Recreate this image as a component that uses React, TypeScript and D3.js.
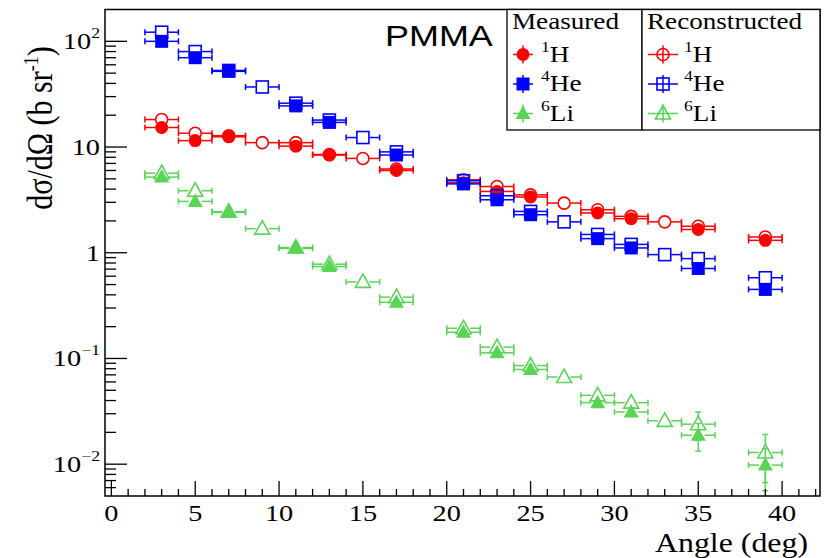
import React from 'react';
import * as d3 from 'd3';

// angles (deg) of the measured and reconstructed bins
const measAngles = [3, 5, 7, 11, 13, 17, 21, 23, 25, 29, 31, 35, 39];
const recoAngles = [3, 5, 7, 9, 11, 13, 15, 17, 21, 23, 25, 27, 29, 31, 33, 35, 39];

// cross sections (b/sr)
const hMeas = [15.3, 11.5, 12.5, 10.2, 8.4, 6.0, 4.6, 3.8, 3.37, 2.38, 2.1, 1.66, 1.31];
const hReco = [18.2, 13.5, 12.8, 11.0, 11.0, 8.5, 7.8, 6.2, 4.9, 4.23, 3.53, 2.95, 2.55, 2.21, 1.96, 1.78, 1.41];
const heMeas = [100, 70, 52, 24.5, 17.1, 8.4, 4.48, 3.17, 2.29, 1.36, 1.11, 0.71, 0.45];
const heReco = [122, 80, 53, 37, 26, 18, 12.3, 9.0, 4.8, 3.46, 2.46, 1.96, 1.49, 1.2, 0.96, 0.88, 0.58];
const liMeas = [5.2, 3.06, 2.41, 1.1, 0.74, 0.34, 0.177, 0.113, 0.0787, 0.0382, 0.0312, 0.0188, 0.0098];
const liReco = [5.66, 3.86, 2.45, 1.69, 1.12, 0.78, 0.53, 0.38, 0.193, 0.128, 0.0857, 0.0667, 0.0448, 0.0382, 0.0257, 0.0239, 0.0129];
const liMeasErr = [0, 0, 0, 0, 0, 0, 0, 0, 0, 0, 0, 0.0055, 0.0042];
const liRecoErr = [0, 0, 0, 0, 0, 0, 0, 0, 0, 0, 0, 0, 0, 0, 0, 0.0072, 0.0062];

const xTicks = [0, 5, 10, 15, 20, 25, 30, 35, 40];
const yTicks = [0.01, 0.1, 1, 10, 100];
const yTickLabels = [['10', '\u22122'], ['10', '\u22121'], ['1', ''], ['10', ''], ['10', '2']];

const RED = '#ff0000';
const BLUE = '#0000ff';
const GREEN = '#59d454';
const SERIF = '"Liberation Serif", "Times New Roman", serif';
const SANS = '"Liberation Sans", Arial, sans-serif';
const SX = 1.18; // glyphs in the original are stretched horizontally

const W = 834, H = 558;
const left = 105, right = 820, top = 9.5, bottom = 496;

const x = d3.scaleLinear().domain([-0.38, 42.26]).range([left, right]);
const y = d3.scaleLog().domain([0.005, 200]).range([bottom, top]);

type Shape = 'circle' | 'square' | 'triangle';

const Marker = ({ cx, cy, shape, color, open }: { cx: number; cy: number; shape: Shape; color: string; open: boolean }) => {
  const fill = open ? 'none' : color;
  const sw = open ? 1.6 : 0;
  if (shape === 'circle') return <circle cx={cx} cy={cy} r={open ? 6 : 6.5} fill={fill} stroke={color} strokeWidth={sw} />;
  if (shape === 'square') {
    const h = open ? 6 : 6.5;
    return <rect x={cx - h} y={cy - h} width={2 * h} height={2 * h} fill={fill} stroke={color} strokeWidth={sw} />;
  }
  const p = `${cx},${cy - 8} ${cx + 7.5},${cy + 5.5} ${cx - 7.5},${cy + 5.5}`;
  return <polygon points={p} fill={fill} stroke={color} strokeWidth={sw} strokeLinejoin="miter" />;
};

const Series = ({ angles, values, errs, shape, color, open }: {
  angles: number[]; values: number[]; errs?: number[]; shape: Shape; color: string; open: boolean;
}) => {
  const r = 6.5;
  const cap = 3;
  return (
    <g>
      {angles.map((a, i) => {
        const cx = x(a), cy = y(values[i]);
        const x0 = x(a - 1), x1 = x(a + 1);
        const e = errs ? errs[i] : 0;
        return (
          <g key={i} stroke={color} strokeWidth={1.5}>
            <line x1={x0} x2={cx - r} y1={cy} y2={cy} />
            <line x1={cx + r} x2={x1} y1={cy} y2={cy} />
            <line x1={x0} x2={x0} y1={cy - cap} y2={cy + cap} />
            <line x1={x1} x2={x1} y1={cy - cap} y2={cy + cap} />
            {e > 0 && (
              <g>
                <line x1={cx} x2={cx} y1={y(values[i] + e)} y2={cy - r} />
                <line x1={cx} x2={cx} y1={cy + r} y2={y(values[i] - e)} />
                <line x1={cx - cap} x2={cx + cap} y1={y(values[i] + e)} y2={y(values[i] + e)} />
                <line x1={cx - cap} x2={cx + cap} y1={y(values[i] - e)} y2={y(values[i] - e)} />
              </g>
            )}
            <Marker cx={cx} cy={cy} shape={shape} color={color} open={open} />
          </g>
        );
      })}
    </g>
  );
};

const Txt = ({ x: tx, y: ty, size, anchor = 'start', family = SERIF, children }: any) => (
  <g transform={`translate(${tx},${ty}) scale(${SX},1)`}>
    <text fontSize={size} textAnchor={anchor} fontFamily={family} fill="#000">{children}</text>
  </g>
);

const legendRows = [
  { num: '1', el: 'H', shape: 'circle' as Shape, color: RED },
  { num: '4', el: 'He', shape: 'square' as Shape, color: BLUE },
  { num: '6', el: 'Li', shape: 'triangle' as Shape, color: GREEN },
];

export default function App() {
  const minorX = d3.range(0, 43, 1).filter((v) => v % 5 !== 0);
  const minorY: number[] = [];
  [0.001, 0.01, 0.1, 1, 10, 100].forEach((d) => {
    for (let k = 2; k <= 9; k++) {
      const v = d * k;
      if (v > 0.005 && v < 200) minorY.push(v);
    }
  });

  return (
    <svg width={W} height={H} style={{ position: 'absolute', left: 0, top: 0, background: '#fff' }}>
      <rect x={0} y={0} width={W} height={H} fill="#fff" />

      {/* data: H, He, Li; reconstructed first, measured on top */}
      <Series angles={recoAngles} values={hReco} shape="circle" color={RED} open />
      <Series angles={measAngles} values={hMeas} shape="circle" color={RED} open={false} />
      <Series angles={recoAngles} values={heReco} shape="square" color={BLUE} open />
      <Series angles={measAngles} values={heMeas} shape="square" color={BLUE} open={false} />
      <Series angles={recoAngles} values={liReco} errs={liRecoErr} shape="triangle" color={GREEN} open />
      <Series angles={measAngles} values={liMeas} errs={liMeasErr} shape="triangle" color={GREEN} open={false} />

      {/* frame and ticks */}
      <rect x={left} y={top} width={right - left} height={bottom - top} fill="none" stroke="#000" strokeWidth={1.5} />
      <g stroke="#000" strokeWidth={1.3}>
        {xTicks.map((t) => <line key={'xt' + t} x1={x(t)} x2={x(t)} y1={bottom} y2={bottom - 15} />)}
        {minorX.map((t) => <line key={'xm' + t} x1={x(t)} x2={x(t)} y1={bottom} y2={bottom - 7} />)}
        {yTicks.map((t) => <line key={'yt' + t} x1={left} x2={left + 22} y1={y(t)} y2={y(t)} />)}
        {minorY.map((t) => <line key={'ym' + t} x1={left} x2={left + 11} y1={y(t)} y2={y(t)} />)}
      </g>

      {xTicks.map((t) => (
        <Txt key={'xl' + t} x={x(t)} y={521} size={24} anchor="middle">{String(t)}</Txt>
      ))}
      {yTicks.map((t, i) => (
        <Txt key={'yl' + t} x={100} y={y(t) + 8} size={24} anchor="end">
          {yTickLabels[i][0]}
          {yTickLabels[i][1] && <tspan fontSize={15} dy={-11}>{yTickLabels[i][1]}</tspan>}
        </Txt>
      ))}

      {/* axis titles */}
      <Txt x={808} y={552} size={27} anchor="end">Angle (deg)</Txt>
      <g transform={`translate(52,128) scale(${SX},1) rotate(-90)`}>
        <text fontSize={30} textAnchor="middle" fontFamily={SERIF}>
          d{'\u03c3'}/d{'\u03a9'} (b sr<tspan fontSize={18} dy={-12}>-1</tspan><tspan dy={12}>)</tspan>
        </text>
      </g>

      {/* PMMA label */}
      <g transform={`translate(385,46) scale(1.24,1)`}>
        <text fontSize={29} fontFamily={SANS}>PMMA</text>
      </g>

      {/* legend */}
      <rect x={507} y={top} width={135} height={130 - top} fill="#fff" stroke="#000" strokeWidth={1.3} />
      <rect x={642} y={top} width={right - 642} height={130 - top} fill="#fff" stroke="#000" strokeWidth={1.3} />
      <Txt x={512} y={29} size={23}>Measured</Txt>
      <Txt x={647} y={29} size={23}>Reconstructed</Txt>
      {legendRows.map((r, i) => {
        const base = 61.5 + i * 29.5;
        const cy = base - 7;
        return (
          <g key={r.el}>
            <g stroke={r.color} strokeWidth={1.5}>
              <line x1={513} x2={533} y1={cy} y2={cy} />
              <line x1={523} x2={523} y1={cy - 9} y2={cy + 9} />
              <line x1={648} x2={678} y1={cy} y2={cy} />
              <line x1={663} x2={663} y1={cy - 9} y2={cy + 9} />
            </g>
            <Marker cx={523} cy={cy} shape={r.shape} color={r.color} open={false} />
            <Marker cx={663} cy={cy} shape={r.shape} color={r.color} open />
            <Txt x={541} y={base} size={23}>
              <tspan fontSize={15} dy={-10}>{r.num}</tspan><tspan dy={10}>{r.el}</tspan>
            </Txt>
            <Txt x={684} y={base} size={23}>
              <tspan fontSize={15} dy={-10}>{r.num}</tspan><tspan dy={10}>{r.el}</tspan>
            </Txt>
          </g>
        );
      })}
    </svg>
  );
}
